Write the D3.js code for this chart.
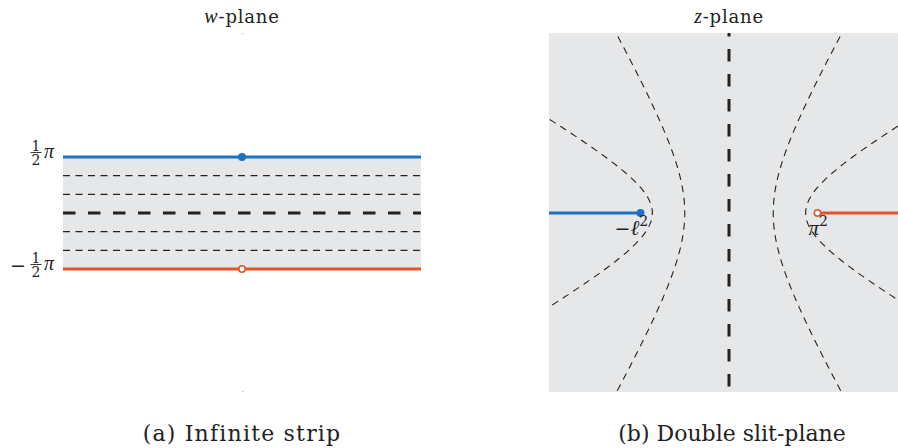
<!DOCTYPE html>
<html>
<head>
<meta charset="utf-8">
<script src="https://cdn.jsdelivr.net/npm/d3@7"></script>
<style>
  html, body { margin: 0; padding: 0; background: #fff; }
  svg { display: block; }
  text { font-family: "DejaVu Serif", "Liberation Serif", serif; fill: #222; }
  .math { font-family: "Liberation Serif", "DejaVu Serif", serif; font-style: italic; }
</style>
</head>
<body>
<svg id="chart" width="898" height="448"></svg>
<script>
// Level lines Im w = v drawn in the strip (and their images in the z-plane)
const levelValues = [Math.PI / 3, Math.PI / 6, 0, -Math.PI / 6, -Math.PI / 3];
// Strip edges: Im w = +π/2 (upper, maps to the left slit) and −π/2 (lower, right slit)
const edgeValues = [Math.PI / 2, -Math.PI / 2];
const edgeColors = ["#1f72bd", "#e1542c"];
const edgeFilled = [true, false];
// Slit tips in normalised z-plane units (z = i·sinh w)
const slitTips = [-1, 1];
const slitLabels = [["−", "ℓ", "2"], ["", "π", "2"]];
// Panel titles and captions
const panelTitles = ["w", "z"];
const captions = ["(a) Infinite strip", "(b) Double slit-plane"];

const svg = d3.select("#chart");
const GRAY = "#e6e7e8";

// ---------- w-plane ----------
const wx = d3.scaleLinear().domain([-1, 1]).range([63, 421]);
const wy = d3.scaleLinear().domain([-Math.PI / 2, Math.PI / 2]).range([269, 157]);

const left = svg.append("g");
left.append("rect")
  .attr("x", wx(-1)).attr("y", wy(edgeValues[0]))
  .attr("width", wx(1) - wx(-1)).attr("height", wy(edgeValues[1]) - wy(edgeValues[0]))
  .attr("fill", GRAY);

left.selectAll("line.level").data(levelValues).enter().append("line")
  .attr("x1", wx(-1)).attr("x2", wx(1))
  .attr("y1", d => wy(d)).attr("y2", d => wy(d))
  .attr("stroke", "#222")
  .attr("stroke-width", d => d === 0 ? 3 : 1.1)
  .attr("stroke-dasharray", d => d === 0 ? "12.5,12.5" : "7,5.5");

left.selectAll("line.edge").data(edgeValues).enter().append("line")
  .attr("x1", wx(-1)).attr("x2", wx(1))
  .attr("y1", d => wy(d)).attr("y2", d => wy(d))
  .attr("stroke", (d, i) => edgeColors[i])
  .attr("stroke-width", 3);

left.selectAll("circle.pt").data(edgeValues).enter().append("circle")
  .attr("cx", wx(0)).attr("cy", d => wy(d))
  .attr("r", (d, i) => edgeFilled[i] ? 4 : 3.2)
  .attr("fill", (d, i) => edgeFilled[i] ? edgeColors[i] : "#fff")
  .attr("stroke", (d, i) => edgeColors[i])
  .attr("stroke-width", (d, i) => edgeFilled[i] ? 0 : 1.6);

// faint markers at the vertical ends of the w-plane frame
[33, 391].forEach(y => left.append("rect")
  .attr("x", wx(0)).attr("y", y).attr("width", 1.2).attr("height", 1.2).attr("fill", "#aaa"));

// ±½π tick labels
edgeValues.forEach((v, i) => {
  const y = wy(v);
  const g = left.append("g").attr("transform", `translate(0,${y})`);
  if (v < 0) g.append("text").attr("x", 10).attr("y", 2.5).attr("font-size", 19).text("−");
  g.append("text").attr("x", 36).attr("y", -6.5).attr("text-anchor", "middle").attr("font-size", 14).text("1");
  g.append("line").attr("x1", 30.5).attr("x2", 41.5).attr("y1", -4.5).attr("y2", -4.5)
    .attr("stroke", "#222").attr("stroke-width", 0.9);
  g.append("text").attr("x", 36).attr("y", 8).attr("text-anchor", "middle").attr("font-size", 14).text("2");
  g.append("text").attr("class", "math").attr("x", 44).attr("y", 0.5).attr("font-size", 20).text("π");
});

// ---------- z-plane ----------
const unit = 88.5;
const zx = d3.scaleLinear().domain([(549 - 729) / unit, (898 - 729) / unit]).range([549, 898]);
const zy = d3.scaleLinear().domain([(213 - 392) / unit, (213 - 33) / unit]).range([392, 33]);

const right = svg.append("g");
svg.append("defs").append("clipPath").attr("id", "zclip").append("rect")
  .attr("x", 549).attr("y", 33).attr("width", 898 - 549).attr("height", 392 - 33);

right.append("rect")
  .attr("x", 549).attr("y", 33).attr("width", 898 - 549).attr("height", 392 - 33)
  .attr("fill", GRAY);

const clipped = right.append("g").attr("clip-path", "url(#zclip)");

// image of Im w = v under z = i·sinh(w): x = −cosh(u)·sin(v), y = sinh(u)·cos(v)
const uSamples = d3.range(-3.2, 3.2001, 0.02);
const zLine = d3.line().x(p => zx(p[0])).y(p => zy(p[1]));

levelValues.filter(v => v !== 0).forEach(v => {
  const pts = uSamples.map(u => [-Math.cosh(u) * Math.sin(v), Math.sinh(u) * Math.cos(v)]);
  clipped.append("path").attr("d", zLine(pts))
    .attr("fill", "none").attr("stroke", "#222").attr("stroke-width", 1.1)
    .attr("stroke-dasharray", "7,5.5");
});

// Im w = 0 maps onto the imaginary axis
clipped.append("line")
  .attr("x1", zx(0)).attr("x2", zx(0)).attr("y1", zy(zy.domain()[1])).attr("y2", zy(zy.domain()[0]))
  .attr("stroke", "#222").attr("stroke-width", 3)
  .attr("stroke-dasharray", "12.5,12.5").attr("stroke-dashoffset", 9);

// the two slits
slitTips.forEach((t, i) => {
  const far = t < 0 ? zx.domain()[0] : zx.domain()[1];
  clipped.append("line")
    .attr("x1", zx(far)).attr("x2", zx(t)).attr("y1", zy(0)).attr("y2", zy(0))
    .attr("stroke", edgeColors[i]).attr("stroke-width", 3);
});
slitTips.forEach((t, i) => {
  right.append("circle").attr("cx", zx(t)).attr("cy", zy(0))
    .attr("r", edgeFilled[i] ? 4 : 3.2)
    .attr("fill", edgeFilled[i] ? edgeColors[i] : "#fff")
    .attr("stroke", edgeColors[i]).attr("stroke-width", edgeFilled[i] ? 0 : 1.6);
});

// slit tip labels: −ℓ² and π²
const tipLabelX = [zx(slitTips[0]) - 26, zx(slitTips[1]) - 9];
slitTips.forEach((t, i) => {
  const [pre, sym, sup] = slitLabels[i];
  const tx = right.append("text").attr("x", tipLabelX[i]).attr("y", zy(0) + 22).attr("font-size", 19);
  if (pre) tx.append("tspan").text(pre);
  tx.append("tspan").attr("class", "math").attr("font-size", 21).text(sym);
  tx.append("tspan").attr("font-size", 14).attr("dy", -9).text(sup);
});

// ---------- titles and captions ----------
const centers = [wx(0), zx(0)];
panelTitles.forEach((s, i) => {
  const t = svg.append("text").attr("x", centers[i]).attr("y", 23)
    .attr("text-anchor", "middle").attr("font-size", 18).attr("letter-spacing", 0.8);
  t.append("tspan").attr("class", "math").attr("font-size", 20).text(s);
  t.append("tspan").text("-plane");
});
const capCenters = [242, 732];
const capSpacing = [1.2, 0];
captions.forEach((s, i) => {
  svg.append("text").attr("x", capCenters[i]).attr("y", 441)
    .attr("text-anchor", "middle").attr("font-size", 22).attr("letter-spacing", capSpacing[i]).text(s);
});
</script>
</body>
</html>
